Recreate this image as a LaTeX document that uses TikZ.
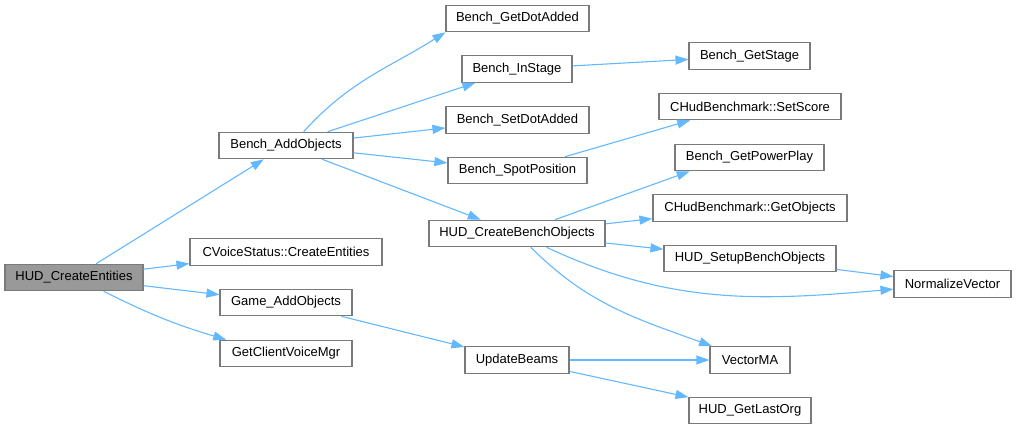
\documentclass[tikz,border=0pt]{standalone}
\usepackage{fontspec}
\setmainfont{Liberation Sans}
\usetikzlibrary{arrows.meta}
\definecolor{callblue}{HTML}{63B8FF}
\definecolor{boxline}{HTML}{7A7A7A}
\definecolor{rootfill}{HTML}{999999}
\begin{document}
\begin{tikzpicture}[x=1pt, y=1pt,
    fn/.style={draw=boxline, line width=1.1pt, fill=white, minimum height=26.5pt,
        inner sep=0pt, font=\fontsize{13}{15}\selectfont},
    call/.style={draw=callblue, line width=1.1pt, -{Triangle[length=13pt,width=9pt]}}]
    \useasboundingbox (0,0) rectangle (1017,-429);
    % Fonctions
    \node[fn, fill=rootfill, minimum width=138] (ce) at (74,-277.5) {HUD\_CreateEntities};
    \node[fn, minimum width=134] (ao) at (286,-145.5) {Bench\_AddObjects};
    \node[fn, minimum width=192] (vs) at (286,-252) {CVoiceStatus::CreateEntities};
    \node[fn, minimum width=132] (gao) at (286,-302.5) {Game\_AddObjects};
    \node[fn, minimum width=132] (gcv) at (286,-353.5) {GetClientVoiceMgr};
    \node[fn, minimum width=143] (gda) at (517.5,-18.5) {Bench\_GetDotAdded};
    \node[fn, minimum width=110] (ins) at (517,-69) {Bench\_InStage};
    \node[fn, minimum width=143] (sda) at (517.5,-120) {Bench\_SetDotAdded};
    \node[fn, minimum width=139] (spp) at (517.5,-170.5) {Bench\_SpotPosition};
    \node[fn, minimum width=176] (cbo) at (517,-233.5) {HUD\_CreateBenchObjects};
    \node[fn, minimum width=104] (ub) at (517,-360) {UpdateBeams};
    \node[fn, minimum width=121] (gs) at (749.5,-56) {Bench\_GetStage};
    \node[fn, minimum width=182] (ss) at (750,-106.5) {CHudBenchmark::SetScore};
    \node[fn, minimum width=149] (gpp) at (749.5,-157.5) {Bench\_GetPowerPlay};
    \node[fn, minimum width=194] (go) at (750,-208) {CHudBenchmark::GetObjects};
    \node[fn, minimum width=172] (sbo) at (750,-258.5) {HUD\_SetupBenchObjects};
    \node[fn, minimum width=117] (nv) at (952.5,-284) {NormalizeVector};
    \node[fn, minimum width=80] (vma) at (750,-360) {VectorMA};
    \node[fn, minimum width=122] (glo) at (750,-410.5) {HUD\_GetLastOrg};
    % Appels directs
    \foreach \a/\b in {ce/ao, ce/vs, ce/gao, ao/ins, ao/sda, ao/spp, ao/cbo,
        ins/gs, cbo/go, cbo/sbo, sbo/nv, gao/ub, ub/vma, ub/glo}{
        \draw[call] (\a) -- (\b);
    }
    % Appels courbes
    \draw[call] (ce.-25) to[bend right=5] (gcv.167);
    \draw[call] (ao.38) to[out=48, in=212] (gda.south west);
    \draw[call] (spp) -- (ss.193);
    \draw[call] (cbo.20.6) -- (gpp.193);
    \draw[call] (cbo) to[out=-25, in=185] (nv);
    \draw[call] (cbo) to[out=-45, in=160] (vma);
\end{tikzpicture}
\end{document}
